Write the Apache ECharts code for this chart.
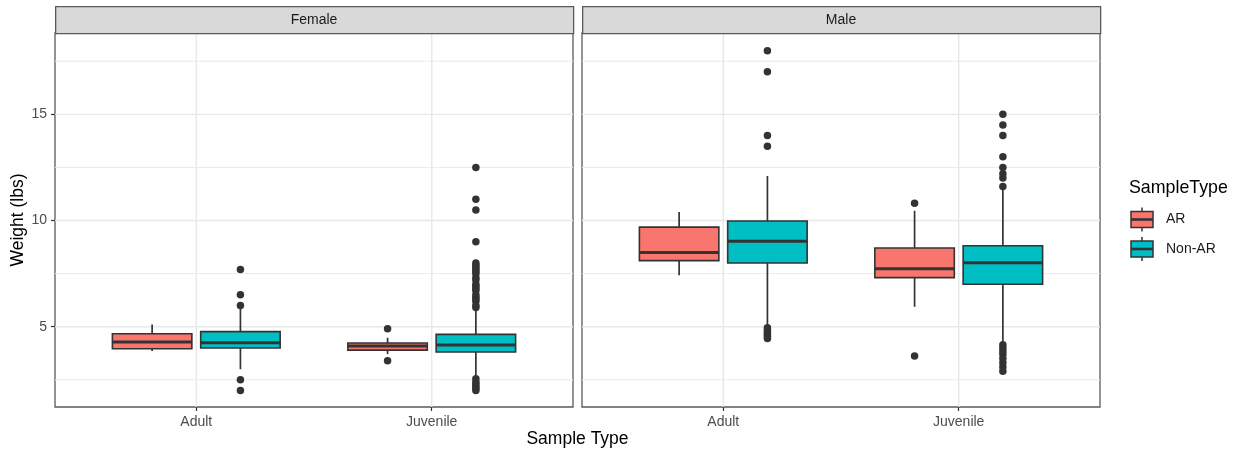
<!DOCTYPE html>
<html>
<head>
<meta charset="utf-8">
<script src="https://cdn.jsdelivr.net/npm/echarts@6/dist/echarts.min.js"></script>
<style>
html,body{margin:0;padding:0;background:#fff;}
#chart{width:1237px;height:450px;}
</style>
</head>
<body>
<div id="chart"></div>
<script>
// ---------- data ----------
const categories = ['Adult', 'Juvenile'];
const panels = ['Female', 'Male'];
const groups = ['AR', 'Non-AR'];
// box stats per category: [lowerWhisker, Q1, median, Q3, upperWhisker]
const femaleAR    = [[3.86, 3.96, 4.28, 4.67, 5.11], [3.71, 3.90, 4.09, 4.23, 4.48]];
const femaleNonAR = [[3.00, 4.00, 4.25, 4.77, 5.85], [2.70, 3.81, 4.14, 4.64, 5.80]];
const maleAR      = [[7.42, 8.11, 8.50, 9.69, 10.40], [5.94, 7.31, 7.73, 8.71, 10.46]];
const maleNonAR   = [[5.10, 8.00, 9.02, 9.98, 12.10], [4.30, 7.00, 8.01, 8.81, 11.50]];
// outliers per category
const femaleAROut    = [[], [4.91, 3.40]];
const femaleNonAROut = [[7.7, 6.5, 6.0, 2.5, 2.0],
  [12.5, 11.0, 10.5, 9.0, 8.0, 7.9, 7.8, 7.7, 7.6, 7.5, 7.3, 7.2, 7.0, 6.9, 6.8, 6.7, 6.5, 6.4, 6.3, 6.2, 6.0, 5.9,
   2.55, 2.4, 2.3, 2.2, 2.1, 2.0]];
const maleAROut      = [[], [10.81, 3.62]];
const maleNonAROut   = [[18.0, 17.0, 14.0, 13.5, 4.95, 4.85, 4.75, 4.65, 4.55, 4.45],
  [15.0, 14.5, 14.0, 13.0, 12.5, 12.2, 12.0, 11.6, 4.15, 4.0, 3.85, 3.7, 3.5, 3.3, 3.1, 2.9]];
// axis ticks / gridlines
const yTicks = [5, 10, 15];
const yMinor = [2.5, 7.5, 12.5, 17.5];
const xTicks = [1, 2];
const yRange = [1.22, 18.83];
const xRange = [0.4, 2.6];

// ---------- style ----------
const FONT = "'Liberation Sans', Arial, sans-serif";
const colors = ['#F8766D', '#00BFC4'];
const dodge = [-0.1875, 0.1875];
const boxW = 0.3375;
const INK = '#333333';
const BORDER = '#5a5a5a';
const gridPos = [{left: 55, top: 33, width: 518, height: 374}, {left: 582, top: 33, width: 518, height: 374}];

const stats = [[femaleAR, femaleNonAR], [maleAR, maleNonAR]];
const outs = [[femaleAROut, femaleNonAROut], [maleAROut, maleNonAROut]];

const series = [];
panels.forEach((p, pi) => {
  // gridlines
  series.push({
    type: 'custom', xAxisIndex: pi, yAxisIndex: pi, silent: true, z: 1,
    data: [[1, 5]],
    renderItem: function (params, api) {
      const cs = params.coordSys;
      const ch = [];
      yMinor.forEach(v => { const y = api.coord([1, v])[1];
        ch.push({type: 'line', shape: {x1: cs.x, y1: y, x2: cs.x + cs.width, y2: y}, style: {stroke: '#EBEBEB', lineWidth: 1}}); });
      yTicks.forEach(v => { const y = api.coord([1, v])[1];
        ch.push({type: 'line', shape: {x1: cs.x, y1: y, x2: cs.x + cs.width, y2: y}, style: {stroke: '#E8E8E8', lineWidth: 1.4}}); });
      xTicks.forEach(v => { const x = api.coord([v, 5])[0];
        ch.push({type: 'line', shape: {x1: x, y1: cs.y, x2: x, y2: cs.y + cs.height}, style: {stroke: '#E8E8E8', lineWidth: 1.4}}); });
      return {type: 'group', children: ch};
    }
  });
  groups.forEach((g, gi) => {
    const off = dodge[gi];
    series.push({
      type: 'custom', name: g, xAxisIndex: pi, yAxisIndex: pi, z: 3,
      data: stats[pi][gi].map((s, ci) => [ci + 1].concat(s)),
      encode: {x: 0, y: [1, 2, 3, 4, 5]},
      renderItem: function (params, api) {
        const xc = api.value(0) + off;
        const lo = api.coord([xc, api.value(1)]);
        const q1 = api.coord([xc, api.value(2)]);
        const md = api.coord([xc, api.value(3)]);
        const q3 = api.coord([xc, api.value(4)]);
        const hi = api.coord([xc, api.value(5)]);
        const w = api.size([boxW, 0])[0];
        const st = {stroke: INK, lineWidth: 1.7};
        return {type: 'group', children: [
          {type: 'line', shape: {x1: hi[0], y1: hi[1], x2: q3[0], y2: q3[1]}, style: st},
          {type: 'line', shape: {x1: q1[0], y1: q1[1], x2: lo[0], y2: lo[1]}, style: st},
          {type: 'rect', shape: {x: q3[0] - w / 2, y: q3[1], width: w, height: q1[1] - q3[1]},
            style: {fill: colors[gi], stroke: INK, lineWidth: 1.6}},
          {type: 'line', shape: {x1: md[0] - w / 2, y1: md[1], x2: md[0] + w / 2, y2: md[1]},
            style: {stroke: INK, lineWidth: 3}}
        ]};
      }
    });
    const pts = [];
    outs[pi][gi].forEach((arr, ci) => arr.forEach(v => pts.push([ci + 1 + off, v])));
    series.push({
      type: 'scatter', name: g + ' outliers', xAxisIndex: pi, yAxisIndex: pi, z: 4,
      symbol: 'circle', symbolSize: 7.5, data: pts,
      itemStyle: {color: INK, opacity: 1}
    });
  });
});

const xAxes = panels.map((p, pi) => ({
  type: 'value', gridIndex: pi, min: xRange[0], max: xRange[1],
  axisLine: {show: false},
  splitLine: {show: false},
  axisTick: {show: true, length: 4, customValues: xTicks, lineStyle: {color: INK, width: 1.2}},
  axisLabel: {show: true, customValues: xTicks, margin: 8, color: '#4D4D4D', fontSize: 14, fontFamily: FONT,
    formatter: v => categories[Math.round(v) - 1] || ''}
}));
const yAxes = panels.map((p, pi) => ({
  type: 'value', gridIndex: pi, min: yRange[0], max: yRange[1],
  axisLine: {show: false},
  splitLine: {show: false},
  axisTick: {show: pi === 0, length: 4, customValues: yTicks, lineStyle: {color: INK, width: 1.2}},
  axisLabel: {show: pi === 0, customValues: yTicks, margin: 8, color: '#4D4D4D', fontSize: 14, fontFamily: FONT}
}));

const graphics = [];
panels.forEach((p, pi) => {
  const gp = gridPos[pi];
  graphics.push({type: 'rect', left: gp.left, top: 6, z: 10,
    shape: {width: gp.width, height: 27}, style: {fill: '#D9D9D9', stroke: BORDER, lineWidth: 1.3}});
  graphics.push({type: 'text', x: gp.left + gp.width / 2, y: 20, z: 11,
    style: {text: p, fill: '#1A1A1A', font: '14px ' + FONT, textAlign: 'center', textVerticalAlign: 'middle'}});
});
// axis titles
graphics.push({type: 'text', x: 577.5, y: 439, style: {text: 'Sample Type', fill: '#000', font: '17.5px ' + FONT, textAlign: 'center', textVerticalAlign: 'middle'}});
graphics.push({type: 'text', x: 18, y: 220, rotation: Math.PI / 2, style: {text: 'Weight (lbs)', fill: '#000', font: '17.5px ' + FONT, textAlign: 'center', textVerticalAlign: 'middle'}});
// legend
graphics.push({type: 'text', x: 1129, y: 188, style: {text: 'SampleType', fill: '#000', font: '17.8px ' + FONT, textAlign: 'left', textVerticalAlign: 'middle'}});
const legY = [219.5, 249];
groups.forEach((g, gi) => {
  const cy = legY[gi];
  graphics.push({type: 'line', shape: {x1: 1142, y1: cy - 12, x2: 1142, y2: cy + 12}, style: {stroke: INK, lineWidth: 1.5}});
  graphics.push({type: 'rect', shape: {x: 1131, y: cy - 8, width: 22, height: 16}, style: {fill: colors[gi], stroke: INK, lineWidth: 1.5}});
  graphics.push({type: 'line', shape: {x1: 1131, y1: cy, x2: 1153, y2: cy}, style: {stroke: INK, lineWidth: 2.6}});
  graphics.push({type: 'text', x: 1166, y: cy, style: {text: g, fill: '#1A1A1A', font: '14px ' + FONT, textAlign: 'left', textVerticalAlign: 'middle'}});
});

const chart = echarts.init(document.getElementById('chart'), null, {renderer: 'canvas'});
chart.setOption({
  animation: false,
  backgroundColor: '#ffffff',
  grid: gridPos.map(g => Object.assign({show: true, borderColor: BORDER, borderWidth: 1.3, backgroundColor: '#ffffff', containLabel: false}, g)),
  xAxis: xAxes,
  yAxis: yAxes,
  series: series,
  graphic: graphics
});
</script>
</body>
</html>
